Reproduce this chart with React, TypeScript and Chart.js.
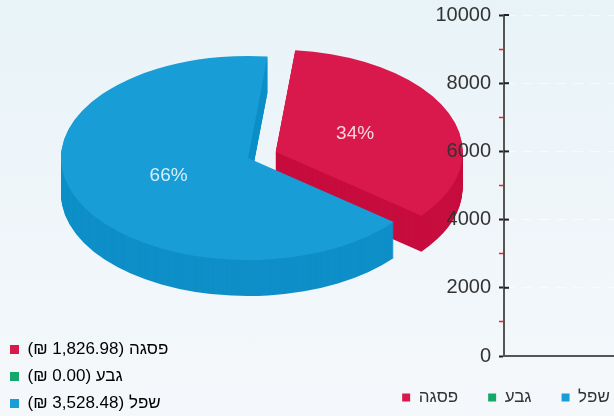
import React, { useEffect, useRef } from 'react';
import { Chart, registerables } from 'chart.js';

Chart.register(...registerables);

const categories = ['פסגה', 'גבע', 'שפל'];
const values = [1826.98, 0, 3528.48];
const currency = '₪';
const topColors = ['#d9194b', '#14a86b', '#199dd6'];
const sideColors = ['#c70d3e', '#0e955e', '#0f8fc8'];
const explode = [30, 0, 0];
const yMin = 0;
const yMax = 10000;
const yMinorStep = 1000;
const yLabelStep = 2000;

const FAMILY = '"Liberation Sans", Arial, sans-serif';

const fmt = (v: number) =>
  v.toLocaleString('en-US', { minimumFractionDigits: 2, maximumFractionDigits: 2 });

const total = values.reduce((a, b) => a + b, 0);

const pie3d = {
  id: 'pie3d',
  beforeDatasetsDraw(chart: any, _args: any, o: any) {
    const ctx = chart.ctx as CanvasRenderingContext2D;
    const arcs = chart.getDatasetMeta(0).data as any[];
    if (!arcs.length) return;
    const R = arcs[0].outerRadius;
    const cx = arcs[0].x;
    const cy = arcs[0].y;
    const k = R / o.rx;
    const mid = (a: any) => (a.startAngle + a.endAngle) / 2;
    const idx = arcs.map((_, i) => i).filter((i) => arcs[i].circumference > 1e-6);
    idx.sort((a, b) => Math.sin(mid(arcs[a])) - Math.sin(mid(arcs[b])));
    const origin = (a: any, i: number) => {
      const m = mid(a);
      const e = (o.explode[i] || 0) * k;
      return [cx + Math.cos(m) * e, cy + Math.sin(m) * e];
    };
    const path = (a: any, i: number) => {
      const [x, y] = origin(a, i);
      ctx.beginPath();
      ctx.moveTo(x, y);
      ctx.arc(x, y, R, a.startAngle, a.endAngle);
      ctx.closePath();
    };
    const withT = (dy: number, fn: () => void) => {
      ctx.save();
      ctx.translate(o.x, o.y + dy);
      ctx.scale(o.rx / R, o.ry / R);
      ctx.translate(-cx, -cy);
      fn();
      ctx.restore();
    };
    for (const i of idx) {
      const a = arcs[i];
      for (let d = o.depth; d >= 1; d--) {
        withT(d, () => {
          path(a, i);
          ctx.fillStyle = o.side[i];
          ctx.fill();
        });
      }
      withT(0, () => {
        path(a, i);
        ctx.fillStyle = a.options.backgroundColor;
        ctx.fill();
      });
    }
    ctx.save();
    ctx.font = `${o.labelSize}px ${FAMILY}`;
    ctx.fillStyle = 'rgba(255,255,255,0.82)';
    ctx.textAlign = 'center';
    ctx.textBaseline = 'middle';
    for (const i of idx) {
      const a = arcs[i];
      const [x, y] = origin(a, i);
      const m = mid(a);
      const px = x + Math.cos(m) * R * o.labelDist;
      const py = y + Math.sin(m) * R * o.labelDist;
      const sx = o.x + (px - cx) * (o.rx / R);
      const sy = o.y + (py - cy) * (o.ry / R);
      ctx.fillText(Math.round((values[i] / total) * 100) + '%', sx, sy);
    }
    ctx.restore();
    return false;
  },
};

const tickExt = {
  id: 'tickExt',
  afterDraw(chart: any) {
    const y = chart.scales.y;
    const ctx = chart.ctx as CanvasRenderingContext2D;
    ctx.save();
    ctx.strokeStyle = '#222';
    ctx.lineWidth = 2;
    y.ticks.forEach((t: any) => {
      if (t.value % yLabelStep === 0 && t.value > yMin) {
        const p = y.getPixelForValue(t.value);
        ctx.beginPath();
        ctx.moveTo(y.right, p);
        ctx.lineTo(y.right + 5, p);
        ctx.stroke();
      }
    });
    ctx.restore();
  },
};

export default function App() {
  const pieRef = useRef<HTMLCanvasElement>(null);
  const barRef = useRef<HTMLCanvasElement>(null);

  useEffect(() => {
    const pie = new Chart(pieRef.current!, {
      type: 'pie',
      data: {
        labels: categories,
        datasets: [{ data: values, backgroundColor: topColors, borderWidth: 0 }],
      },
      options: {
        responsive: false,
        animation: false,
        events: [],
        rotation: 6,
        layout: { padding: { bottom: -6 } },
        plugins: {
          legend: {
            position: 'left',
            align: 'end',
            textDirection: 'rtl',
            labels: {
              boxWidth: 9,
              boxHeight: 9,
              padding: 10,
              color: '#333',
              font: { size: 17, family: FAMILY },
              generateLabels: () =>
                categories.map((c, i) => ({
                  text: `${c} (${fmt(values[i])} ${currency})`,
                  fillStyle: topColors[i],
                  strokeStyle: topColors[i],
                  lineWidth: 0,
                  hidden: false,
                  index: i,
                })),
            },
          },
          tooltip: { enabled: false },
          pie3d: {
            x: 248,
            y: 158,
            rx: 187,
            ry: 102,
            depth: 36,
            explode,
            side: sideColors,
            labelDist: 0.46,
            labelSize: 19,
          },
        } as any,
      },
      plugins: [pie3d as any],
    });

    const bar = new Chart(barRef.current!, {
      type: 'bar',
      data: {
        labels: [''],
        datasets: categories.map((c, i) => ({
          label: c,
          data: [values[i]],
          backgroundColor: topColors[i],
        })),
      },
      options: {
        responsive: false,
        animation: false,
        events: [],
        layout: { padding: { top: 15, right: 10 } },
        datasets: { bar: { categoryPercentage: 0.4, barPercentage: 0.9 } },
        scales: {
          x: {
            grid: { display: false },
            ticks: { display: false },
            border: { color: '#555', width: 2 },
            afterFit: (s: any) => {
              s.height = 3;
            },
          },
          y: {
            min: yMin,
            max: yMax,
            afterFit: (s: any) => {
              s.width = 504;
              s.paddingTop = 0;
              s.paddingBottom = 0;
            },
            ticks: {
              stepSize: yMinorStep,
              padding: 8,
              color: '#333',
              font: { size: 20, family: FAMILY },
              callback: (v: any) => (Number(v) % yLabelStep === 0 ? String(v) : ''),
            },
            grid: {
              color: (c: any) =>
                c.tick && c.tick.value % yLabelStep === 0 ? 'rgba(255,255,255,0.6)' : 'rgba(0,0,0,0)',
              tickColor: (c: any) =>
                c.tick && c.tick.value % yLabelStep === 0 ? '#222' : '#ff1a1a',
              tickWidth: (c: any) => (c.tick && c.tick.value % yLabelStep === 0 ? 2 : 1.5),
              tickLength: 5,
              lineWidth: 1,
            },
            border: { color: '#555', width: 2, dash: [10, 7] },
          },
        },
        plugins: {
          legend: {
            position: 'bottom',
            labels: {
              boxWidth: 8,
              boxHeight: 8,
              padding: 30,
              color: '#333',
              font: { size: 17, family: FAMILY },
            },
          },
          tooltip: { enabled: false },
        },
      } as any,
      plugins: [tickExt as any],
    });

    return () => {
      pie.destroy();
      bar.destroy();
    };
  }, []);

  return (
    <div
      style={{
        position: 'fixed',
        left: 0,
        top: 0,
        width: 614,
        height: 416,
        overflow: 'hidden',
        background: 'linear-gradient(180deg, #e8f3f8 0%, #f0f6fa 60%, #f5f8fb 100%)',
      }}
    >
      <canvas
        ref={pieRef}
        width={614}
        height={416}
        style={{ position: 'absolute', left: 0, top: 0, width: 614, height: 416 }}
      />
      <canvas
        ref={barRef}
        width={1022}
        height={416}
        style={{ position: 'absolute', left: 0, top: 0, width: 1022, height: 416 }}
      />
    </div>
  );
}
